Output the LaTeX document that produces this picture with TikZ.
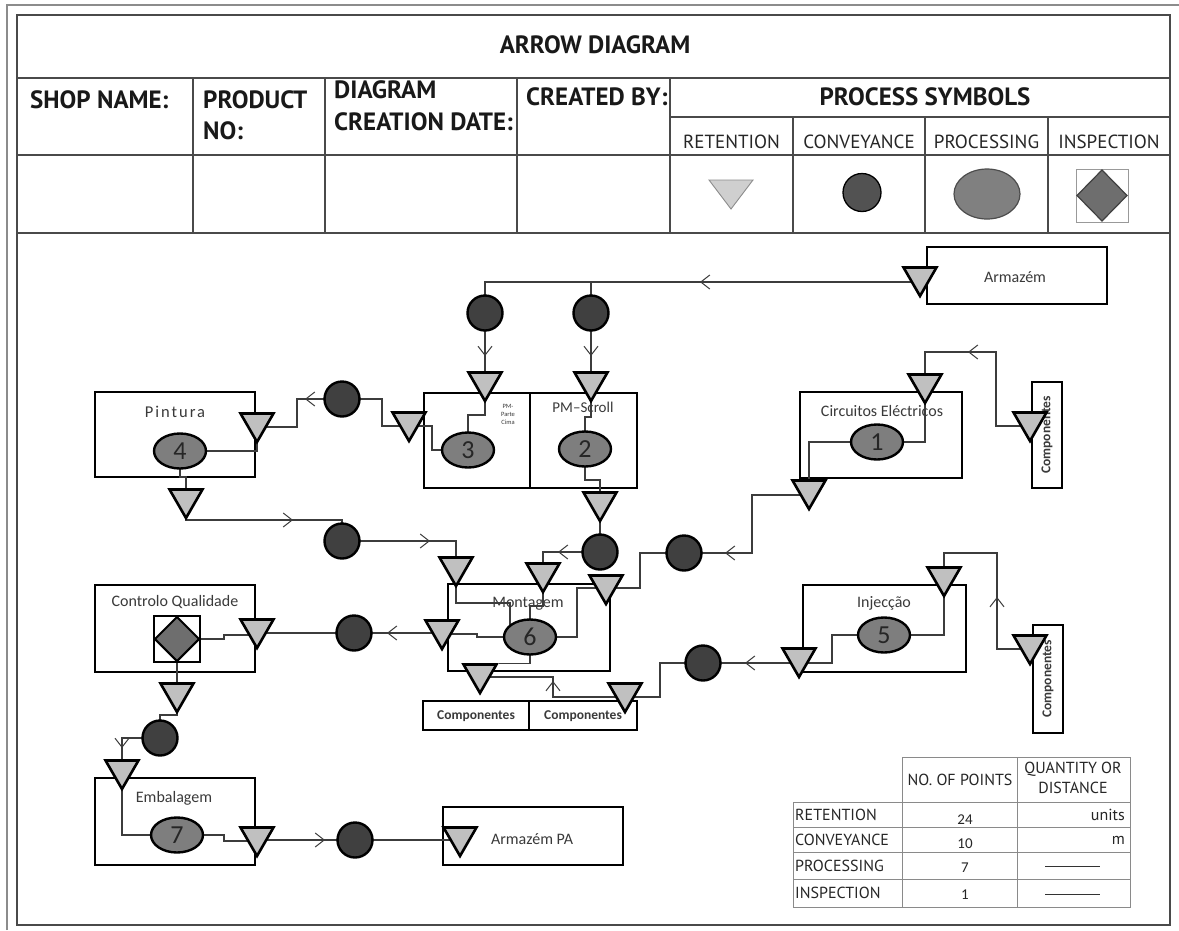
\documentclass[tikz,border=0pt]{standalone}
\usepackage{fontspec}
\usetikzlibrary{shapes.geometric,arrows.meta,decorations.markings}
\newfontfamily\hdrfont{PT Sans}
\newfontfamily\lblfont{Carlito}
\definecolor{retfill}{HTML}{C0C0C0}
\definecolor{convfill}{HTML}{404040}
\definecolor{procfill}{HTML}{7E7E7E}
\definecolor{inspfill}{HTML}{6E6E6E}
\definecolor{wire}{HTML}{3C3C3C}
\definecolor{ink}{HTML}{3A3A3A}
\definecolor{gridline}{HTML}{4A4A4A}
\definecolor{thinrule}{HTML}{8A8A8A}
\pgfdeclarelayer{boxes}
\pgfdeclarelayer{wires}
\pgfsetlayers{boxes,wires,main}

\begin{document}
\begin{tikzpicture}[x=1pt,y=-1pt,
  station/.style={draw=black,line width=2.4pt,fill=white,inner sep=0pt},
  retention/.style={regular polygon,regular polygon sides=3,shape border rotate=180,
    minimum size=38pt,inner sep=0pt,draw=black,line width=2.6pt,fill=retfill},
  conveyance/.style={circle,minimum size=35pt,inner sep=0pt,draw=black,line width=2.4pt,fill=convfill},
  processing/.style={ellipse,minimum width=52pt,minimum height=35pt,inner sep=0pt,
    draw=black,line width=2.4pt,fill=procfill,text=black!85,font=\lblfont\fontsize{26}{26}\selectfont},
  con/.style={draw=wire,line width=1.4pt},
  chev/.style={postaction={decorate,decoration={markings,
    mark=at position #1 with {\arrow{Straight Barb[length=9pt,width=14pt,line width=1pt]}}}}},
  lbl/.style={text=ink,inner sep=0pt,font=\lblfont\fontsize{16}{16}\selectfont},
  complbl/.style={text=ink,inner sep=0pt,font=\lblfont\bfseries\fontsize{13.5}{13.5}\selectfont},
  hdr/.style={inner sep=0pt,text=black!90,font=\hdrfont\bfseries\fontsize{25}{28}\selectfont},
  symhdr/.style={inner sep=0pt,text=black!85,font=\hdrfont\fontsize{19}{19}\selectfont},
  tbl/.style={inner sep=0pt,text=black!85,font=\hdrfont\fontsize{16}{18}\selectfont},
  num/.style={inner sep=0pt,text=black!85,font=\lblfont\fontsize{15}{15}\selectfont},
]
\useasboundingbox (0,0) rectangle (1179,930);

\begin{pgfonlayer}{boxes}
\fill[white] (0,0) rectangle (1179,930);

% ---------- frames ----------
\draw[black!45,line width=1.6pt] (7,930) -- (7,5) -- (1179,5);
\draw[gridline,line width=1.6pt] (17,15) rectangle (1170,925);

% ---------- header grid ----------
\draw[gridline,line width=1.5pt] (17,78) -- (1170,78) (17,155) -- (1170,155) (17,233) -- (1170,233)
  (670,117) -- (1170,117);
\foreach \xx in {193,325,517,670} \draw[gridline,line width=1.5pt] (\xx,78) -- (\xx,233);
\foreach \xx in {793,925,1048} \draw[gridline,line width=1.5pt] (\xx,117) -- (\xx,233);

\node[hdr] (title) at (595,45) {ARROW DIAGRAM};
\node[hdr,anchor=west] (shop) at (30,100) {SHOP NAME:};
\node[hdr,anchor=west] (prodA) at (203,100) {PRODUCT};
\node[hdr,anchor=west] (prodB) at (203,131) {NO:};
\node[hdr,anchor=west] (dateA) at (334,90) {DIAGRAM};
\node[hdr,anchor=west] (dateB) at (334,122) {CREATION DATE:};
\node[hdr,anchor=west] (made) at (526,97) {CREATED BY:};
\node[hdr] (psym) at (925,97) {PROCESS SYMBOLS};
\node[symhdr] (hRet) at (731.5,142) {RETENTION};
\node[symhdr] (hCon) at (859,142) {CONVEYANCE};
\node[symhdr] (hPro) at (986.5,142) {PROCESSING};
\node[symhdr] (hIns) at (1109,142) {INSPECTION};

% legend glyphs
\draw[draw=black!45,line width=0.9pt,fill=black!19] (709,180) -- (753,180) -- (731,209) -- cycle;
\draw[black,line width=1.3pt,fill=black!68] (862,192.5) circle[radius=19pt];
\draw[black!70,line width=1.2pt,fill=black!50] (987,194) ellipse[x radius=33pt,y radius=25pt];
\draw[black!40,line width=1pt] (1076,169) rectangle (1128,222);
\draw[black!75,line width=1.2pt,fill=inspfill] (1077,195.5) -- (1102,170) -- (1127,195.5) -- (1102,221) -- cycle;

% ---------- summary table ----------
\draw[thinrule,line width=1pt] (902,757) rectangle (1130,802) (793,802) rectangle (1130,907)
  (793,827) -- (1130,827) (793,852) -- (1130,852) (793,879) -- (1130,879)
  (902,802) -- (902,907) (1017,757) -- (1017,907);
\node[tbl] (tbH1) at (960,780) {NO. OF POINTS};
\node[tbl,align=center,font=\hdrfont\fontsize{16}{19.5}\selectfont] (tbH2) at (1073,778) {QUANTITY OR\\DISTANCE};
\node[tbl,anchor=west] (tbR1) at (795,815) {RETENTION};
\node[tbl,anchor=west] (tbR2) at (795,840) {CONVEYANCE};
\node[tbl,anchor=west] (tbR3) at (795,866) {PROCESSING};
\node[tbl,anchor=west] (tbR4) at (795,893) {INSPECTION};
\node[num] (tbN1) at (965,820) {24};
\node[num] (tbN2) at (965,844) {10};
\node[num] (tbN3) at (965,868) {7};
\node[num] (tbN4) at (965,895) {1};
\node[tbl,anchor=east] (tbQ1) at (1125,815) {units};
\node[tbl,anchor=east] (tbQ2) at (1125,840) {m};
\draw[black!80,line width=1pt] (1045,866) -- (1100,866) (1045,894) -- (1100,894);

% ---------- stations ----------
\node[station,minimum width=180pt,minimum height=57pt] (armz) at (1017,275.5) {};
\node[station,minimum width=162pt,minimum height=86pt] (circ) at (881,435) {};
\node[station,minimum width=30pt,minimum height=106pt] (compA) at (1047,435) {};
\node[station,minimum width=106pt,minimum height=95pt] (pmA) at (477,440.5) {};
\node[station,minimum width=107pt,minimum height=95pt] (pmB) at (583.5,440.5) {};
\node[station,minimum width=160pt,minimum height=85pt] (pint) at (175,434.5) {};
\node[station,minimum width=162pt,minimum height=87pt] (mont) at (529,627.5) {};
\node[station,minimum width=106pt,minimum height=29pt] (compL) at (476,715.5) {};
\node[station,minimum width=108pt,minimum height=29pt] (compR) at (583,715.5) {};
\node[station,minimum width=163pt,minimum height=87pt] (inj) at (884.5,628.5) {};
\node[station,minimum width=30pt,minimum height=108pt] (compB) at (1048,679) {};
\node[station,minimum width=160pt,minimum height=87pt] (cq) at (175,628.5) {};
\node[station,minimum width=160pt,minimum height=87pt] (emb) at (175,821.5) {};
\node[station,minimum width=180pt,minimum height=58pt] (armzPA) at (533,836) {};

% station labels
\node[lbl] (armzT) at (1015,277) {Armazém};
\node[lbl] (circT) at (882,411) {Circuitos Eléctricos};
\node[complbl,rotate=90] (compAT) at (1047,435) {Componentes};
\node[text=ink,inner sep=0pt,align=center,font=\lblfont\fontsize{6.5}{8}\selectfont] (pmAT) at (508,414) {PM-\\Parte\\Cima};
\node[lbl,font=\lblfont\fontsize{15}{15}\selectfont] (pmBT) at (583,407) {PM–Scroll};
\node[lbl,font=\lblfont\fontsize{16.5}{16.5}\selectfont\addfontfeatures{LetterSpace=12}] (pintT) at (175,412) {Pintura};
\node[lbl] (montT) at (528,604) {Montagem};
\node[complbl] (compLT) at (476,716) {Componentes};
\node[complbl] (compRT) at (583,716) {Componentes};
\node[lbl] (injT) at (884,603) {Injecção};
\node[complbl,rotate=90] (compBT) at (1048,679) {Componentes};
\node[lbl] (cqT) at (175,602) {Controlo Qualidade};
\node[lbl] (embT) at (174,798) {Embalagem};
\node[lbl] (armzPAT) at (532,839) {Armazém PA};
\end{pgfonlayer}

% ---------- retention points ----------
\node[retention] (tArmz) at (920,277) {};
\node[retention] (tP3) at (485,382) {};
\node[retention] (tP2) at (591,382) {};
\node[retention] (tPL) at (409,422) {};
\node[retention] (tPinR) at (257,423) {};
\node[retention] (tPinB) at (186,499) {};
\node[retention] (tPSb) at (600,502) {};
\node[retention] (tCirT) at (925,384) {};
\node[retention] (tCompA) at (1030,422) {};
\node[retention] (tCirB) at (809,490) {};
\node[retention] (tMTL) at (456,567) {};
\node[retention] (tMTM) at (543,573) {};
\node[retention] (tMTR) at (606,585) {};
\node[retention] (tML) at (442,630) {};
\node[retention] (tMB) at (480,674) {};
\node[retention] (tCompR) at (625,693) {};
\node[retention] (tInjT) at (944,577) {};
\node[retention] (tInjB) at (799,658) {};
\node[retention] (tCompB) at (1030,645) {};
\node[retention] (tCQR) at (257,629) {};
\node[retention] (tCQB) at (177,693) {};
\node[retention] (tEmbT) at (122,770) {};
\node[retention] (tEmbR) at (257,837) {};
\node[retention] (tPA) at (460,837) {};

% ---------- conveyance points ----------
\node[conveyance] (c1) at (485,313) {};
\node[conveyance] (c2) at (591,313) {};
\node[conveyance] (c3) at (342,399) {};
\node[conveyance] (c4) at (342,541) {};
\node[conveyance] (c5) at (600,552) {};
\node[conveyance] (c6) at (684,553) {};
\node[conveyance] (c7) at (703,663) {};
\node[conveyance] (c8) at (354,633) {};
\node[conveyance] (c9) at (160,738) {};
\node[conveyance] (c10) at (355,840) {};

% ---------- processing steps ----------
\node[processing] (e1) at (877,442) {1};
\node[processing] (e2) at (585,449) {2};
\node[processing] (e3) at (468,450) {3};
\node[processing] (e4) at (180,451) {4};
\node[processing] (e5) at (884,635) {5};
\node[processing] (e6) at (530,637) {6};
\node[processing] (e7) at (177,835) {7};

% ---------- inspection ----------
\node[draw=black,line width=2.5pt,fill=white,minimum size=46pt,inner sep=0pt] (insp) at (177,639) {};
\node[diamond,draw=black,line width=2pt,fill=inspfill,minimum width=45pt,minimum height=45pt,inner sep=0pt] (inspD) at (177,639) {};

% ---------- connectors (on a layer beneath the symbols) ----------
\begin{pgfonlayer}{wires}
% supply from Armazém to the two pre-assembly lines
\draw[con,chev=220pt] (tArmz.center |- 0,282) -| (c1.center);
\draw[con] (c2.center |- 0,282) -- (c2.center);
\draw[con,chev=43pt] (c1.center) -- (tP3.center);
\draw[con,chev=43pt] (c2.center) -- (tP2.center);
\draw[con] (tP3.center) |- (e3.center |- 0,415) -- (e3.center);
\draw[con] (tP2.center) |- (e2.center |- 0,417) -- (e2.center);
\draw[con] (e2.center) |- (tPSb.center |- 0,480) -- (tPSb.center);
\draw[con] (tPSb.center) -- (c5.center);
\draw[con,chev=42pt] (c5.center) -| (tMTM.center);
% PM parte cima to Pintura
\draw[con] (e3.center) -| (432,426) -- (tPL.center |- 0,426);
\draw[con] (tPL.center |- 0,426) -- (382,426) |- (c3.center);
\draw[con,chev=37pt] (c3.center) -| (297,427) -- (tPinR.center |- 0,427);
\draw[con] (e4.center) -| (tPinR.center);
\draw[con] (e4.center) |- (tPinB.center |- 0,477) -- (tPinB.center);
\draw[con,chev=128pt] (tPinB.center) |- (c4.center |- 0,520) -- (c4.center);
\draw[con,chev=88pt] (c4.center) -| (tMTL.center);
% Montagem
\draw[con] (tMTL.center) |- (510,603) |- (e6.center);
\draw[con] (tMTM.center) |- (e6.center |- 0,606) -- (e6.center);
\draw[con] (tMTR.center |- 0,588) -| (577,637) -- (e6.center);
\draw[con] (c6.center) -| (640,588) -- (tMTR.center |- 0,588);
\draw[con] (e6.center) |- (tMB.corner 2);
\draw[con] (e6.center) -| (477,634) -- (tML.center |- 0,634);
% Circuitos Eléctricos
\draw[con,chev=136pt] (tCompA.center |- 0,426) -| (996,352) -| (tCirT.center);
\draw[con] (tCirT.center) |- (e1.center);
\draw[con] (e1.center) -| (tCirB.center);
\draw[con,chev=142pt] (tCirB.center |- 0,495) -| (752,553) -- (c6.center);
% Injecção
\draw[con,chev=85pt] (tCompB.center |- 0,649) -| (997,553) -| (tInjT.center);
\draw[con] (tInjT.center) |- (e5.center);
\draw[con] (e5.center) -| (832,663) -- (tInjB.center |- 0,663);
\draw[con,chev=54pt] (tInjB.center |- 0,663) -- (c7.center);
\draw[con] (c7.center) -| (660,697) -- (tCompR.center |- 0,697);
\draw[con,chev=88pt] (tCompR.center |- 0,697) -| (553,677) -- (tMB.center |- 0,677);
% Controlo Qualidade, Embalagem, Armazém PA
\draw[con,chev=55pt] (tML.center |- 0,633) -- (c8.center);
\draw[con] (c8.center) -- (tCQR.center |- 0,633);
\draw[con] (tCQR.center |- 0,635) -| (224,639) -- (insp.center);
\draw[con] (insp.center) -- (tCQB.center);
\draw[con] (tCQB.center) |- (c9.center |- 0,715) -- (c9.center);
\draw[con,chev=48pt] (c9.center) -| (tEmbT.center);
\draw[con] (tEmbT.center) |- (e7.center);
\draw[con] (e7.center) -| (224,841) -- (tEmbR.center |- 0,841);
\draw[con,chev=68pt] (tEmbR.center |- 0,840) -- (c10.center);
\draw[con] (c10.center) -- (tPA.center |- 0,840);
\end{pgfonlayer}
\end{tikzpicture}
\end{document}
